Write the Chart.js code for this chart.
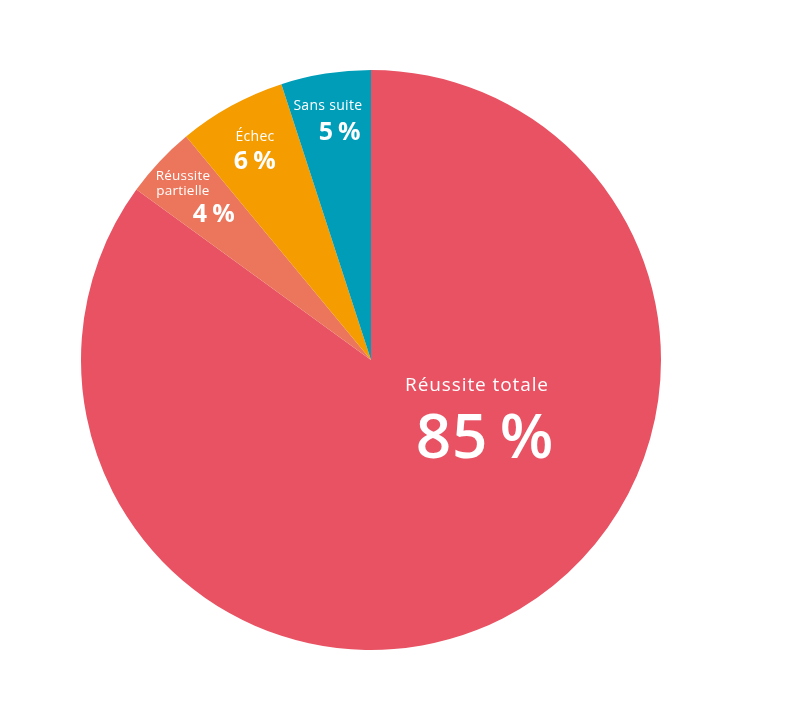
<!DOCTYPE html>
<html>
<head>
<meta charset="utf-8">
<script src="https://cdn.jsdelivr.net/npm/chart.js@4.4.1/dist/chart.umd.min.js"></script>
<style>
  html, body { margin: 0; padding: 0; background: #fff; }
  #pie { display: block; }
</style>
</head>
<body>
<canvas id="pie" width="793" height="704"></canvas>
<script>
// Data
const categories = ['Réussite totale', 'Réussite partielle', 'Échec', 'Sans suite'];
const shares = [85, 4, 6, 5];
const sliceColors = ['#E85263', '#EC765B', '#F49C00', '#009DB9'];

// label placement per slice: angle offset from slice middle (deg), radius fraction, sizes
const labelStyle = [
    { angleShift: -37.3, radius: 0.421, nameSize: 19, valueSize: 62, gap: 55, nameSpacing: 0.9, valueSpacing: 1, valueWeight: '600', nameDx: -4, valueDx: 4 },
    { angleShift: 0, radius: 0.79, nameSize: 13.5, valueSize: 25, gap: 24, nameSpacing: 0.2, valueSpacing: 0.5, valueWeight: 'bold', nameDx: -21, valueDx: 10 },
    { angleShift: 0, radius: 0.83, nameSize: 14, valueSize: 25, gap: 25, nameSpacing: 0.3, valueSpacing: 0.5, valueWeight: 'bold', nameDx: 0, valueDx: 0 },
    { angleShift: 0, radius: 0.84, nameSize: 14, valueSize: 25, gap: 26, nameSpacing: 0.3, valueSpacing: 0.5, valueWeight: 'bold', nameDx: -5, valueDx: 7 }
];

const sliceLabels = {
    id: 'sliceLabels',
    afterDatasetsDraw(chart) {
        const ctx = chart.ctx;
        const arcs = chart.getDatasetMeta(0).data;
        ctx.save();
        ctx.fillStyle = '#ffffff';
        ctx.textAlign = 'center';
        ctx.textBaseline = 'middle';
        arcs.forEach((arc, i) => {
            const st = labelStyle[i];
            const mid = (arc.startAngle + arc.endAngle) / 2 + st.angleShift * Math.PI / 180;
            const r = arc.outerRadius * st.radius;
            const x = arc.x + Math.cos(mid) * r;
            const y = arc.y + Math.sin(mid) * r;
            const lines = categories[i] === 'Réussite partielle' ? ['Réussite', 'partielle'] : [categories[i]];
            ctx.font = st.nameSize + 'px "Open Sans", sans-serif';
            ctx.letterSpacing = st.nameSpacing + 'px';
            const lh = st.nameSize * 1.12;
            const top = y - st.gap / 2 - (lines.length - 1) * lh;
            lines.forEach((ln, k) => ctx.fillText(ln, x + st.nameDx, top + k * lh));
            ctx.font = st.valueWeight + ' ' + st.valueSize + 'px "Open Sans", sans-serif';
            ctx.letterSpacing = st.valueSpacing + 'px';
            ctx.fillText(shares[i] + '\u2009%', x + st.valueDx, y + st.gap / 2);
        });
        ctx.restore();
    }
};

const pieChart = new Chart(document.getElementById('pie'), {
    type: 'pie',
    data: {
        labels: categories,
        datasets: [{
            data: shares,
            backgroundColor: sliceColors,
            borderWidth: 0
        }]
    },
    options: {
        responsive: false,
        animation: false,
        layout: { padding: { top: 70, bottom: 54, left: 81, right: 132 } },
        plugins: {
            legend: { display: false },
            tooltip: { enabled: false }
        }
    },
    plugins: [sliceLabels]
});
</script>
</body>
</html>
